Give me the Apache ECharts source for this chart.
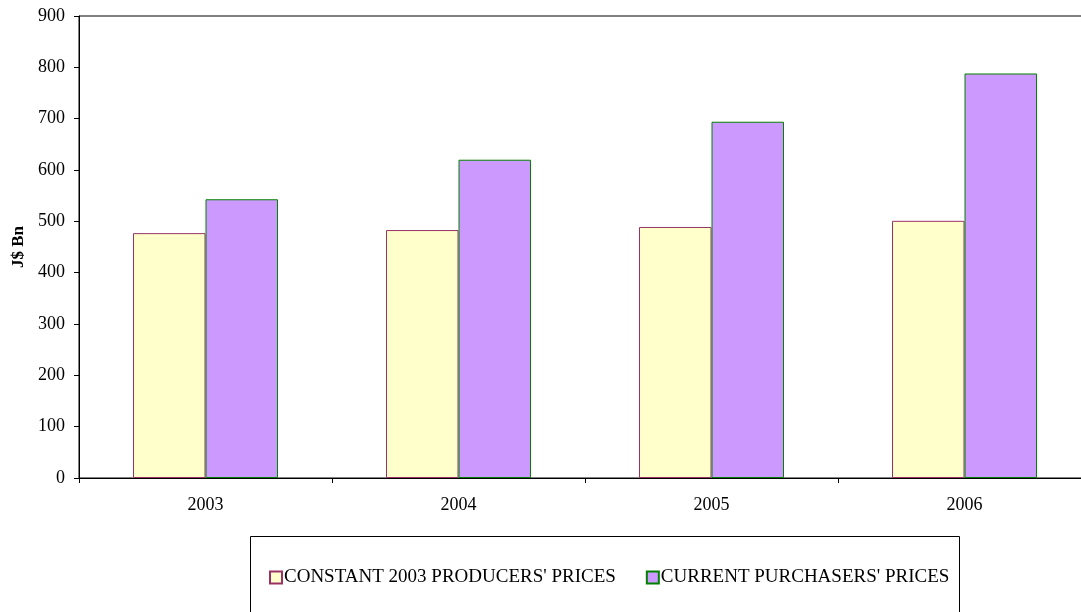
<!DOCTYPE html>
<html>
<head>
<meta charset="utf-8">
<script src="https://cdn.jsdelivr.net/npm/echarts@6/dist/echarts.min.js"></script>
<style>
html,body{margin:0;padding:0;background:#fff;overflow:hidden;}
#chart{width:1110px;height:612px;}
</style>
</head>
<body>
<div id="chart"></div>
<script>
const categories = ['2003', '2004', '2005', '2006'];
const constantPrices = [477, 483, 489, 501];
const currentPrices = [543, 620, 694, 788];
const seriesNames = ["CONSTANT 2003 PRODUCERS' PRICES", "CURRENT PURCHASERS' PRICES"];
const yTitle = 'J$ Bn';

const FONT = '"Liberation Serif", "Times New Roman", serif';
const chart = echarts.init(document.getElementById('chart'), null, {renderer: 'canvas'});
chart.setOption({
  animation: false,
  backgroundColor: '#fff',
  textStyle: {fontFamily: FONT},
  grid: {
    left: 79, top: 16, width: 1012, height: 462,
    show: true, borderColor: '#000', borderWidth: 1, backgroundColor: 'transparent'
  },
  legend: {
    left: 264, top: 563,
    itemWidth: 12, itemHeight: 12, itemGap: 30,
    icon: 'rect',
    textStyle: {fontFamily: FONT, fontSize: 19, color: '#000', padding: [0, 0, 0, -3]},
    data: seriesNames
  },
  graphic: [{
    type: 'rect', left: 248, top: 534,
    shape: {width: 709, height: 77},
    style: {fill: 'none', stroke: '#000', lineWidth: 1}
  }],
  xAxis: {
    type: 'category', data: categories,
    axisLine: {lineStyle: {color: '#000'}},
    axisTick: {show: true, length: 5, lineStyle: {color: '#000'}},
    axisLabel: {color: '#000', fontSize: 18, fontFamily: FONT, margin: 18}
  },
  yAxis: {
    type: 'value', min: 0, max: 900, interval: 100,
    name: yTitle, nameLocation: 'middle', nameGap: 52, nameRotate: 90,
    nameTextStyle: {fontFamily: FONT, fontSize: 17, fontWeight: 'bold', color: '#000'},
    axisLine: {show: true, lineStyle: {color: '#000'}},
    axisTick: {show: true, length: 5, lineStyle: {color: '#000'}},
    splitLine: {show: false},
    axisLabel: {color: '#000', fontSize: 18, fontFamily: FONT, margin: 14}
  },
  series: [
    {
      name: seriesNames[0], type: 'bar', data: constantPrices,
      barGap: '0%', barCategoryGap: '42.7%',
      itemStyle: {color: '#FFFFCC', borderColor: '#993366', borderWidth: 1}
    },
    {
      name: seriesNames[1], type: 'bar', data: currentPrices,
      itemStyle: {color: '#CC99FF', borderColor: '#008000', borderWidth: 1}
    }
  ]
});
</script>
</body>
</html>
